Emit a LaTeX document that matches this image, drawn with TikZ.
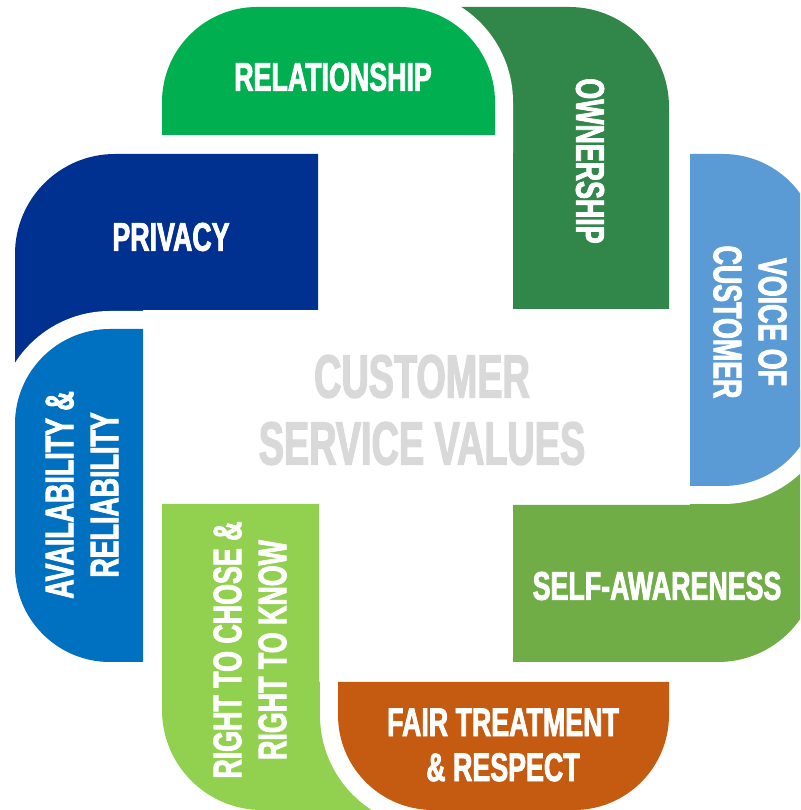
\documentclass[tikz,border=0pt]{standalone}
\usepackage{fontspec}
\newfontfamily\tabfont{Liberation Sans}[FakeStretch=0.67,BoldFeatures={FakeBold=2}]
\newfontfamily\titlefont{Liberation Sans}[FakeStretch=0.62,BoldFeatures={FakeBold=2}]
\usepackage{xcolor}
\definecolor{relgreen}{HTML}{00B050}
\definecolor{owngreen}{HTML}{31864A}
\definecolor{voiceblue}{HTML}{5B9BD5}
\definecolor{selfgreen}{HTML}{70AD47}
\definecolor{fairorange}{HTML}{C55A11}
\definecolor{rightgreen}{HTML}{92D050}
\definecolor{availblue}{HTML}{0070C0}
\definecolor{privblue}{HTML}{003090}
\definecolor{titlegray}{HTML}{D9D9D9}

\begin{document}
\begin{tikzpicture}[x=1pt, y=1pt,
	tabA/.style={fill=#1, preaction={draw=white, line width=36pt}},
	tabB/.style={fill=#1},
	tablabel/.style={text=white, align=center, font=\tabfont\bfseries\fontsize{40}{45}\selectfont},
	centerlabel/.style={text=titlegray, align=center, font=\titlefont\bfseries\fontsize{61}{67}\selectfont}]
		\useasboundingbox (0, 0) rectangle (800, 810);
		\clip (0, 0) rectangle (800, 810);
		% 底层色块
		\path [tabB=owngreen] (513, 501) -- (513, 675) -- (400, 675) -- (400, 803) --
		(569, 803) arc [start angle=90, end angle=0, radius=100pt] -- (669, 501) -- cycle;
		\path [tabB=selfgreen] (513, 305) -- (690, 305) -- (690, 420) -- (818, 420) --
		(818, 248) arc [start angle=0, end angle=-90, radius=100pt] -- (513, 148) -- cycle;
		\path [tabB=rightgreen] (319, 306) -- (319, 128) -- (433, 128) -- (433, 0) --
		(262, 0) arc [start angle=-90, end angle=-180, radius=100pt] -- (162, 306) -- cycle;
		\path [tabB=privblue] (318, 500) -- (143, 500) -- (143, 390) -- (15, 390) --
		(15, 556) arc [start angle=180, end angle=90, radius=100pt] -- (318, 656) -- cycle;
		% 上层色块
		\path [tabA=relgreen] (162, 675) -- (162, 708) arc [start angle=180, end angle=90, radius=95pt] --
		(400, 803) arc [start angle=90, end angle=0, radius=95pt] -- (495, 675) -- cycle;
		\path [tabA=voiceblue] (690, 656) -- (723, 656) arc [start angle=90, end angle=0, radius=95pt] --
		(818, 419) arc [start angle=0, end angle=-90, radius=95pt] -- (690, 324) -- cycle;
		\path [tabA=fairorange] (669, 128) -- (669, 95) arc [start angle=0, end angle=-90, radius=95pt] --
		(433, 0) arc [start angle=-90, end angle=-180, radius=95pt] -- (338, 128) -- cycle;
		\path [tabA=availblue] (143, 148) -- (110, 148) arc [start angle=270, end angle=180, radius=95pt] --
		(15, 386) arc [start angle=180, end angle=90, radius=95pt] -- (143, 481) -- cycle;
		% 文字
		\node [tablabel] (relationship) at (333, 733) {RELATIONSHIP};
		\node [tablabel, rotate=-90] (ownership) at (590, 649) {OWNERSHIP};
		\node [tablabel, rotate=-90] (voice) at (750, 488) {VOICE OF\\CUSTOMER};
		\node [tablabel] (selfaware) at (657, 224) {SELF-AWARENESS};
		\node [tablabel] (fair) at (503, 65) {FAIR TREATMENT\\\& RESPECT};
		\node [tablabel, rotate=90] (rightto) at (250, 160) {RIGHT TO CHOSE \&\\RIGHT TO KNOW};
		\node [tablabel, rotate=90] (avail) at (82, 315) {AVAILABILITY \&\\RELIABILITY};
		\node [tablabel] (privacy) at (171, 573) {PRIVACY};
		\node [centerlabel] (values) at (422, 400) {CUSTOMER\\SERVICE VALUES};
	\end{tikzpicture}
\end{document}
